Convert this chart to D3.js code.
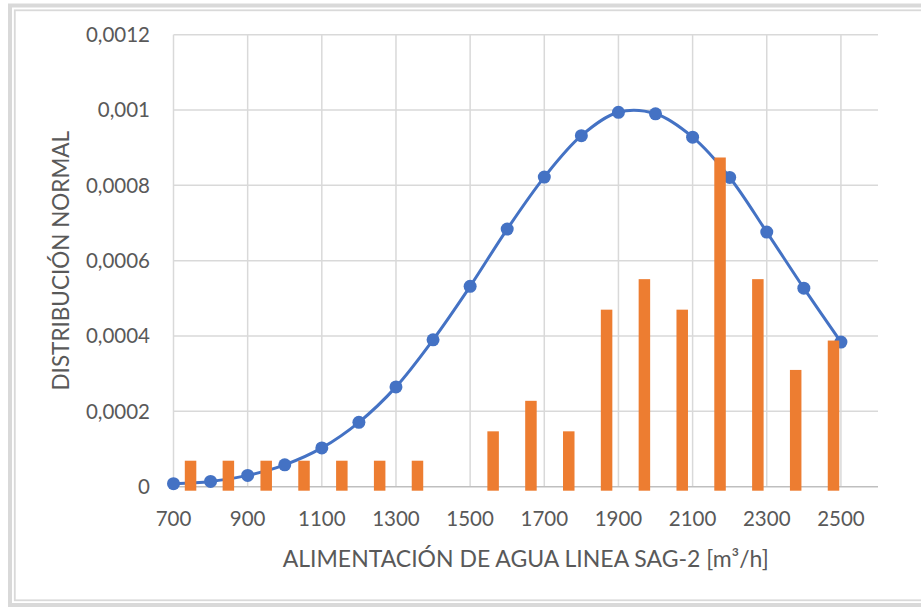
<!DOCTYPE html>
<html>
<head>
<meta charset="utf-8">
<script src="https://cdn.jsdelivr.net/npm/d3@7"></script>
<style>
  html, body { margin: 0; padding: 0; background: #fff; }
  svg { display: block; }
</style>
</head>
<body>
<svg width="921" height="607"></svg>
<script>
// Axis ticks
const xTicks = [700, 900, 1100, 1300, 1500, 1700, 1900, 2100, 2300, 2500];
const yTicks = [0, 0.0002, 0.0004, 0.0006, 0.0008, 0.001, 0.0012];

// Normal distribution curve (points every 100 m3/h)
const normalX = [700, 800, 900, 1000, 1100, 1200, 1300, 1400, 1500, 1600,
                 1700, 1800, 1900, 2000, 2100, 2200, 2300, 2400, 2500];
const normalY = [0.000008, 0.000014, 0.00003, 0.000058, 0.000103, 0.000171, 0.000265, 0.00039,
                 0.000532, 0.000684, 0.000822, 0.000932, 0.000994, 0.00099, 0.000928,
                 0.000821, 0.000676, 0.000527, 0.000384];

// Histogram bars (bin centers and heights)
const binCenters = [746, 848, 950, 1052, 1154, 1256, 1358, 1460, 1562, 1664,
                    1766, 1868, 1970, 2072, 2174, 2276, 2378, 2480];
const binValues = [0.000069, 0.000069, 0.000069, 0.000069, 0.000069, 0.000069, 0.000069, 0,
                   0.000147, 0.000228, 0.000147, 0.00047, 0.000551, 0.00047, 0.000874,
                   0.000551, 0.00031, 0.000388];

const xTitle = "ALIMENTACIÓN DE AGUA LINEA SAG-2 [m³/h]";
const yTitle = "DISTRIBUCIÓN NORMAL";

const svg = d3.select("svg");
const textColor = "#595959";
const gridColor = "#d9d9d9";
const font = "Lato, 'Open Sans', sans-serif";

// Plot area
const plotLeft = 173.5, plotRight = 878, plotTop = 34.7, plotBottom = 486.7;

const x = d3.scaleLinear().domain([700, 2600]).range([plotLeft, plotRight]);
const y = d3.scaleLinear().domain([0, 0.0012]).range([plotBottom, plotTop]);

// Comma decimal, like the spreadsheet
const locale = d3.formatLocale({ decimal: ",", thousands: ".", grouping: [3], currency: ["", ""] });
const yFmt = locale.format("~g");

// Outer frame
svg.append("rect")
    .attr("x", 10).attr("y", 5.5).attr("width", 1000).attr("height", 599.5)
    .attr("fill", "none").attr("stroke", gridColor).attr("stroke-width", 4);
svg.append("rect")
    .attr("x", 14.8).attr("y", 10.3).attr("width", 1000).attr("height", 590)
    .attr("fill", "none").attr("stroke", gridColor).attr("stroke-width", 1.8);

// Horizontal gridlines
svg.append("g")
    .selectAll("line")
    .data(yTicks.filter(d => d > 0))
    .enter()
    .append("line")
    .attr("x1", plotLeft).attr("x2", plotRight)
    .attr("y1", d => y(d)).attr("y2", d => y(d))
    .attr("stroke", gridColor).attr("stroke-width", 1.5);

// Vertical gridlines
svg.append("g")
    .selectAll("line")
    .data(xTicks)
    .enter()
    .append("line")
    .attr("x1", d => x(d)).attr("x2", d => x(d))
    .attr("y1", plotTop).attr("y2", plotBottom)
    .attr("stroke", gridColor).attr("stroke-width", 1.5);

// Bottom axis line
svg.append("line")
    .attr("x1", plotLeft).attr("x2", plotRight)
    .attr("y1", y(0)).attr("y2", y(0))
    .attr("stroke", "#bfbfbf").attr("stroke-width", 1.5);

// Y tick labels
svg.append("g")
    .selectAll("text")
    .data(yTicks)
    .enter()
    .append("text")
    .attr("x", 150)
    .attr("y", d => y(d))
    .attr("dy", "0.36em")
    .attr("text-anchor", "end")
    .style("font-family", font)
    .style("font-size", "20.5px")
    .style("fill", textColor)
    .text(d => yFmt(d));

// X tick labels
svg.append("g")
    .selectAll("text")
    .data(xTicks)
    .enter()
    .append("text")
    .attr("x", d => x(d))
    .attr("y", 526)
    .attr("text-anchor", "middle")
    .style("font-family", font)
    .style("font-size", "20.5px")
    .style("fill", textColor)
    .text(d => d);

// Axis titles
svg.append("text")
    .attr("x", (plotLeft + plotRight) / 2)
    .attr("y", 567)
    .attr("text-anchor", "middle")
    .style("font-family", font)
    .style("font-size", "23px")
    .style("fill", textColor)
    .text(xTitle);

svg.append("text")
    .attr("transform", `translate(69, ${(plotTop + plotBottom) / 2}) rotate(-90)`)
    .attr("text-anchor", "middle")
    .style("font-family", font)
    .style("font-size", "22.5px")
    .style("fill", textColor)
    .text(yTitle);

// Normal curve (smoothed) with markers
const points = normalX.map((d, i) => ({ x: d, y: normalY[i] }));

const line = d3.line()
    .x(d => x(d.x))
    .y(d => y(d.y))
    .curve(d3.curveCatmullRom.alpha(0.5));

svg.append("path")
    .datum(points)
    .attr("d", line)
    .attr("fill", "none")
    .attr("stroke", "#4472C4")
    .attr("stroke-width", 3);

svg.append("g")
    .selectAll("circle")
    .data(points)
    .enter()
    .append("circle")
    .attr("cx", d => x(d.x))
    .attr("cy", d => y(d.y))
    .attr("r", 6.5)
    .attr("fill", "#4472C4");

// Histogram bars (secondary series, drawn on top)
const barWidth = 11.5;
const barOverhang = 4; // bars dip slightly below the axis line
svg.append("g")
    .selectAll("rect")
    .data(binCenters.map((d, i) => ({ x: d, v: binValues[i] })).filter(d => d.v > 0))
    .enter()
    .append("rect")
    .attr("x", d => x(d.x) - barWidth / 2)
    .attr("y", d => y(d.v))
    .attr("width", barWidth)
    .attr("height", d => y(0) - y(d.v) + barOverhang)
    .attr("fill", "#ED7D31");
</script>
</body>
</html>
